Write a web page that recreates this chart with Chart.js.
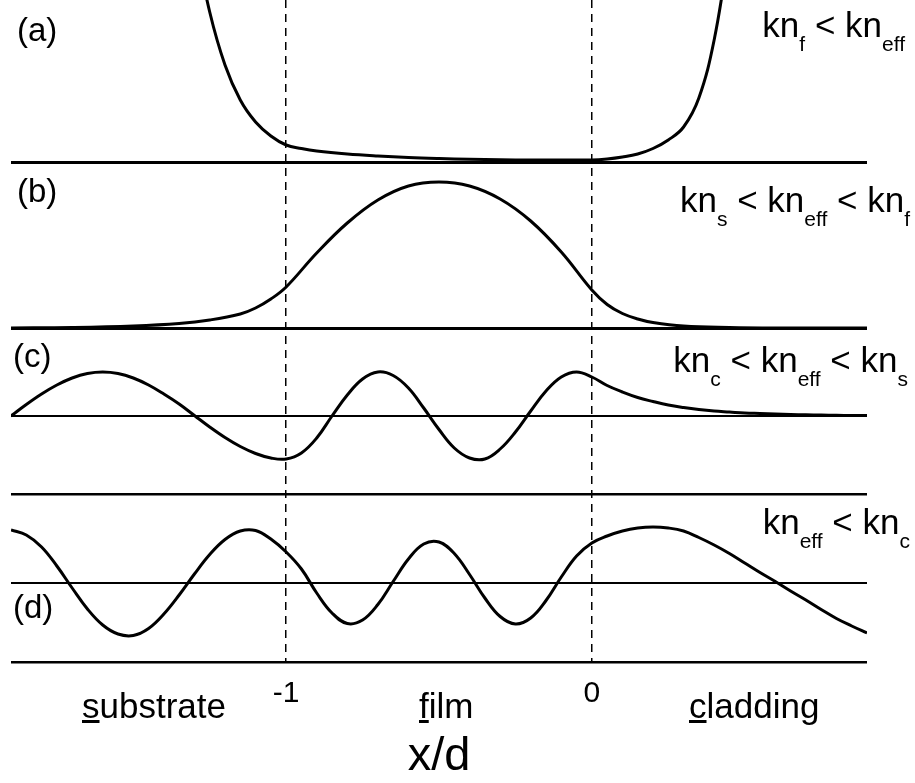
<!DOCTYPE html>
<html>
<head>
<meta charset="utf-8">
<script src="https://cdn.jsdelivr.net/npm/chart.js@4.4.1/dist/chart.umd.min.js"></script>
<style>
  body { margin: 0; background: #fff; }
  #wrap { position: relative; width: 915px; height: 783px; font-family: "Liberation Sans", Arial, sans-serif; color: #000; }
  .lbl { position: absolute; white-space: nowrap; line-height: 1; }
  .big { font-size: 35px; }
  .tag { font-size: 33px; }
  .s { font-size: 21px; position: relative; top: 14px; }
</style>
</head>
<body>
<div id="wrap">
  <canvas id="modes"></canvas>

  <div class="lbl tag" style="left:17px; top:13px">(a)</div>
  <div class="lbl tag" style="left:17px; top:174px">(b)</div>
  <div class="lbl tag" style="left:13px; top:339px">(c)</div>
  <div class="lbl tag" style="left:13px; top:590px">(d)</div>

  <div class="lbl big" style="right:10px; top:7px">kn<span class="s">f</span> &lt; kn<span class="s">eff</span></div>
  <div class="lbl big" style="right:5px; top:182px">kn<span class="s">s</span> &lt; kn<span class="s">eff</span> &lt; kn<span class="s">f</span></div>
  <div class="lbl big" style="right:7px; top:342px">kn<span class="s">c</span> &lt; kn<span class="s">eff</span> &lt; kn<span class="s">s</span></div>
  <div class="lbl big" style="right:5px; top:504px">kn<span class="s">eff</span> &lt; kn<span class="s">c</span></div>

  <div class="lbl big" style="left:82px; top:688px"><u>s</u>ubstrate</div>
  <div class="lbl big" style="left:419px; top:688px"><u>f</u>ilm</div>
  <div class="lbl big" style="left:689px; top:688px"><u>c</u>ladding</div>
</div>
<script>
// field amplitude (arbitrary units) vs x/d, film between -1 and 0
const xA = [-1.3, -1.25, -1.2, -1.15, -1.1, -1.05, -1.0, -0.95, -0.9, -0.8, -0.7, -0.6, -0.5, -0.4, -0.3, -0.2, -0.1, 0, 0.05, 0.1, 0.15, 0.2, 0.25, 0.3, 0.35, 0.4, 0.45];
const fieldA = [224, 150, 97, 62, 40, 26, 17, 13.5, 11, 8, 6, 4.5, 3.5, 2.8, 2.3, 2, 2, 2, 3, 5, 8, 13.5, 22, 35, 64, 122, 215];

const xB = [-1.9, -1.7, -1.5, -1.35, -1.25, -1.15, -1.1, -1.05, -1.0, -0.9, -0.8, -0.7, -0.6, -0.5, -0.4, -0.3, -0.2, -0.1, 0, 0.05, 0.1, 0.15, 0.2, 0.3, 0.45, 0.6, 0.9];
const fieldB = [0, 0.5, 2, 4.5, 8, 14, 20, 29, 41, 75, 105, 128, 142, 146, 142, 129, 107, 76, 38, 23.5, 14.5, 9, 5.5, 2, 0.5, 0, 0];

const xOsc = [-1.9, -1.85, -1.8, -1.75, -1.7, -1.65, -1.6, -1.55, -1.5, -1.45, -1.4, -1.35, -1.3, -1.25, -1.2, -1.15, -1.1, -1.05, -1.0,
  -0.95, -0.9, -0.85, -0.8, -0.75, -0.7, -0.65, -0.6, -0.55, -0.5, -0.45, -0.4, -0.35, -0.3, -0.25, -0.2, -0.15, -0.1, -0.05, 0,
  0.05, 0.1, 0.15, 0.2, 0.25, 0.3, 0.35, 0.4, 0.45, 0.5, 0.55, 0.6, 0.65, 0.7, 0.75, 0.8, 0.85, 0.9];
const fieldC = [0, 11.5, 22, 31, 38, 42.5, 44, 42.5, 38, 31, 22, 12, 0.5, -11, -21.5, -30.5, -37.5, -42, -43,
  -37, -22, 0, 21, 37, 44, 40.5, 28, 8, -13.5, -32, -42, -43, -33, -16, 5, 25, 39, 44, 39,
  30.5, 24, 18.5, 14.5, 11, 8.5, 6.5, 5, 4, 3, 2.5, 2, 1.5, 1.2, 1, 0.7, 0.5, 0.4];
const fieldD = [53, 48, 36, 17, -5, -26, -42, -51, -52.5, -45.5, -31, -12, 9, 28.5, 43.5, 52, 52.5, 44, 31,
  14, -10, -30, -40.5, -37, -21.5, 1.5, 24, 39, 41, 29.5, 8.5, -15, -33.5, -41, -35, -17.5, 6, 27, 40,
  47, 52, 55, 56, 55, 52, 45.5, 38, 29.5, 20, 10.5, 1.5, -8, -17, -26.5, -35.5, -43, -50];

const xTicks = [-1, 0];
const xTickLabels = ['-1', '0'];

Chart.defaults.font.family = "'Liberation Sans', Arial, sans-serif";
Chart.defaults.color = '#000';

function curve(xs, ys, axis) {
  return {
    data: xs.map((x, i) => ({x: x, y: ys[i]})),
    yAxisID: axis,
    borderColor: '#000',
    borderWidth: 3,
    pointRadius: 0,
    fill: false,
    tension: 0.4
  };
}

// one stacked y axis per panel, grid lines = baselines
function panelAxis(min, max, order, lines, widths) {
  return {
    type: 'linear',
    position: 'left',
    stack: 'panels',
    stackWeight: max - min,
    weight: order,
    min: min,
    max: max,
    afterBuildTicks: ax => { ax.ticks = lines.map(v => ({value: v})); },
    ticks: {display: false},
    border: {display: false},
    grid: {drawTicks: false, color: '#000', lineWidth: c => widths[c.index]}
  };
}

new Chart(document.getElementById('modes'), {
  type: 'line',
  data: {
    datasets: [
      curve(xA, fieldA, 'ya'),
      curve(xB, fieldB, 'yb'),
      curve(xOsc, fieldC, 'yc'),
      curve(xOsc, fieldD, 'yd')
    ]
  },
  options: {
    responsive: true,
    maintainAspectRatio: false,
    animation: false,
    events: [],
    layout: {padding: {left: 11, right: 48, top: 0, bottom: 0}},
    plugins: {legend: {display: false}, tooltip: {enabled: false}},
    scales: {
      x: {
        type: 'linear',
        min: -1.9,
        max: 0.9,
        afterBuildTicks: ax => { ax.ticks = xTicks.map(v => ({value: v})); },
        ticks: {
          callback: (v, i) => xTickLabels[i],
          font: {size: 30},
          color: '#000',
          padding: 14,
          maxRotation: 0,
          autoSkip: false
        },
        grid: {drawTicks: false, color: '#000', lineWidth: 1.5},
        border: {display: false, dash: [8, 6]},
        title: {
          display: true,
          text: 'x/d',
          color: '#000',
          font: {size: 47, lineHeight: 1},
          padding: {top: 8, bottom: 2}
        }
      },
      ya: panelAxis(0, 162, 4, [0], [3]),
      yb: panelAxis(0, 166, 3, [0], [3]),
      yc: panelAxis(-78, 88, 2, [-78, 0], [2.5, 2]),
      yd: panelAxis(-79, 89, 1, [-79, 0], [2.5, 2])
    }
  }
});
</script>
</body>
</html>
